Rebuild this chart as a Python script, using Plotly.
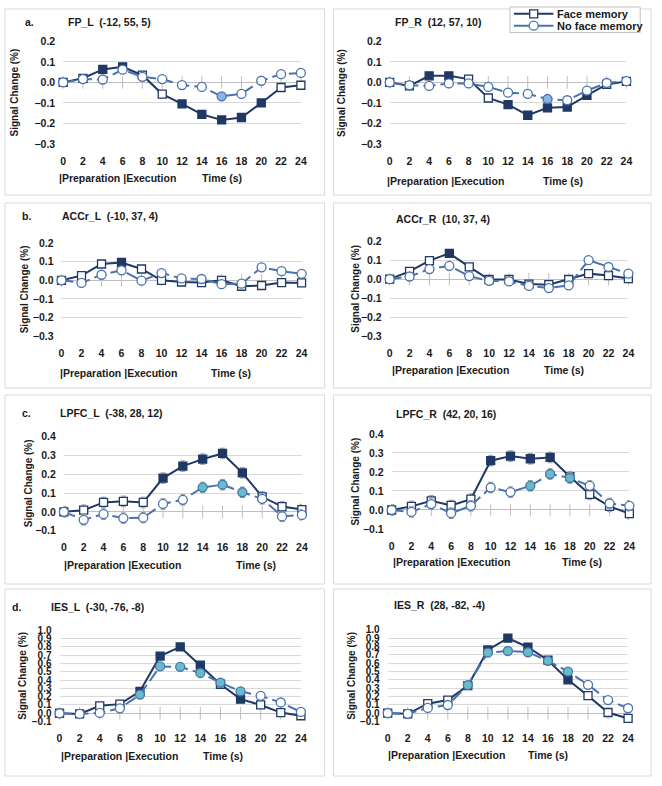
import plotly.graph_objects as go

# time points (s)
times = [0, 2, 4, 6, 8, 10, 12, 14, 16, 18, 20, 22, 24]

# signal change (%); *_sig marks the filled (significant) points
fp_l_face = [0.0, 0.020, 0.063, 0.076, 0.035, -0.057, -0.105, -0.156, -0.183, -0.171, -0.100, -0.025, -0.014]
fp_l_noface = [0.0, 0.016, 0.014, 0.062, 0.027, 0.016, -0.013, -0.022, -0.068, -0.056, 0.008, 0.040, 0.046]
fp_l_face_sig = [0, 0, 1, 1, 0, 0, 1, 1, 1, 1, 1, 0, 0]
fp_l_noface_sig = [0, 0, 0, 0, 0, 0, 0, 0, 1, 0, 0, 0, 0]

fp_r_face = [0.0, -0.017, 0.032, 0.032, 0.016, -0.076, -0.108, -0.160, -0.124, -0.120, -0.063, -0.010, 0.005]
fp_r_noface = [0.0, -0.014, -0.017, -0.005, -0.005, -0.022, -0.050, -0.056, -0.081, -0.087, -0.040, -0.003, 0.006]
fp_r_face_sig = [0, 0, 1, 1, 0, 0, 1, 1, 1, 1, 1, 0, 0]
fp_r_noface_sig = [0, 0, 0, 0, 0, 0, 0, 0, 1, 0, 0, 0, 0]

accr_l_face = [0.0, 0.025, 0.088, 0.096, 0.061, 0.0, -0.009, -0.012, 0.0, -0.032, -0.028, -0.012, -0.014]
accr_l_noface = [0.0, -0.014, 0.030, 0.054, -0.002, 0.039, 0.010, 0.007, -0.021, -0.018, 0.070, 0.049, 0.035]
accr_l_face_sig = [0, 0, 0, 1, 0, 0, 0, 0, 0, 0, 0, 0, 0]
accr_l_noface_sig = [0] * 13

accr_r_face = [0.0, 0.041, 0.098, 0.136, 0.065, -0.002, -0.002, -0.026, -0.029, -0.002, 0.029, 0.019, 0.003]
accr_r_noface = [0.0, 0.014, 0.053, 0.070, 0.016, -0.009, -0.012, -0.036, -0.047, -0.033, 0.100, 0.064, 0.029]
accr_r_face_sig = [0, 0, 0, 1, 0, 0, 0, 0, 0, 0, 0, 0, 0]
accr_r_noface_sig = [0] * 13

lpfc_l_face = [0.0, 0.009, 0.050, 0.056, 0.050, 0.179, 0.243, 0.280, 0.310, 0.207, 0.080, 0.028, 0.012]
lpfc_l_noface = [0.0, -0.042, -0.012, -0.033, -0.031, 0.042, 0.064, 0.130, 0.144, 0.104, 0.069, -0.024, -0.016]
lpfc_l_face_sig = [0, 0, 0, 0, 0, 1, 1, 1, 1, 1, 0, 0, 0]
lpfc_l_noface_sig = [0, 0, 0, 0, 0, 0, 0, 1, 1, 1, 0, 0, 0]

lpfc_r_face = [0.0, 0.019, 0.048, 0.024, 0.057, 0.259, 0.283, 0.269, 0.276, 0.175, 0.082, 0.019, -0.019]
lpfc_r_noface = [0.0, -0.010, 0.031, -0.017, 0.022, 0.118, 0.094, 0.127, 0.189, 0.168, 0.127, 0.034, 0.022]
lpfc_r_face_sig = [0, 0, 0, 0, 0, 1, 1, 1, 1, 0, 0, 0, 0]
lpfc_r_noface_sig = [0, 0, 0, 0, 0, 0, 0, 1, 1, 1, 0, 0, 0]

ies_l_face = [0.0, -0.008, 0.090, 0.110, 0.265, 0.690, 0.800, 0.580, 0.350, 0.170, 0.100, 0.008, -0.030]
ies_l_noface = [0.0, -0.008, 0.004, 0.060, 0.225, 0.565, 0.560, 0.486, 0.370, 0.265, 0.210, 0.130, 0.016]
ies_l_face_sig = [0, 0, 0, 0, 1, 1, 1, 1, 0, 1, 0, 0, 0]
ies_l_noface_sig = [0, 0, 0, 0, 1, 1, 1, 1, 1, 1, 0, 0, 0]

ies_r_face = [0.0, -0.008, 0.114, 0.157, 0.330, 0.757, 0.900, 0.790, 0.635, 0.400, 0.210, 0.008, -0.063]
ies_r_noface = [0.0, -0.008, 0.063, 0.098, 0.337, 0.725, 0.745, 0.730, 0.627, 0.498, 0.340, 0.157, 0.059]
ies_r_face_sig = [0, 0, 0, 0, 0, 1, 1, 1, 1, 1, 0, 0, 0]
ies_r_noface_sig = [0, 0, 0, 0, 1, 1, 1, 1, 1, 1, 0, 0, 0]

# approximate s.e.m. per panel
sem = [0.016, 0.016, 0.018, 0.018, 0.028, 0.028, 0.03, 0.03]

titles = ["FP_L  (-12, 55, 5)", "FP_R  (12, 57, 10)", "ACCr_L  (-10, 37, 4)", "ACCr_R  (10, 37, 4)",
          "LPFC_L  (-38, 28, 12)", "LPFC_R  (42, 20, 16)", "IES_L  (-30, -76, -8)", "IES_R  (28, -82, -4)"]
letters = ["a.", "", "b.", "", "c.", "", "d.", ""]
series_names = ["Face memory", "No face memory"]
face_data = [fp_l_face, fp_r_face, accr_l_face, accr_r_face, lpfc_l_face, lpfc_r_face, ies_l_face, ies_r_face]
noface_data = [fp_l_noface, fp_r_noface, accr_l_noface, accr_r_noface,
               lpfc_l_noface, lpfc_r_noface, ies_l_noface, ies_r_noface]
face_sig = [fp_l_face_sig, fp_r_face_sig, accr_l_face_sig, accr_r_face_sig,
            lpfc_l_face_sig, lpfc_r_face_sig, ies_l_face_sig, ies_r_face_sig]
noface_sig = [fp_l_noface_sig, fp_r_noface_sig, accr_l_noface_sig, accr_r_noface_sig,
              lpfc_l_noface_sig, lpfc_r_noface_sig, ies_l_noface_sig, ies_r_noface_sig]
y_ranges = [(-0.3, 0.2), (-0.3, 0.2), (-0.3, 0.2), (-0.3, 0.2), (-0.1, 0.4), (-0.1, 0.4), (-0.1, 1.0), (-0.1, 1.0)]

W, H = 662, 786
NAVY = "#1f3864"
STEEL = "#4a72ad"
LIGHT = "#8db4e2"
TEAL = "#66bcc8"
GRID = "#d9d9d9"
TXT = "#1a1a1a"
FONT = "Liberation Sans, Arial, sans-serif"

# pixel layout of each panel: plot box (x0, x1, ytop, ybottom), letter/title row, y-title x, footer y,
# left x of "|Preparation", centre x of "Time (s)", fill for significant circles
boxes = [
    dict(plot=(61, 302, 35.7, 140.3), head_y=16, letter_x=20, title_x=64, ytitle_x=12, foot_y=175, prep_x=55, time_x=222, fill=LIGHT),
    dict(plot=(392, 632, 35.7, 140.3), head_y=16, letter_x=0, title_x=395, ytitle_x=343, foot_y=178, prep_x=387, time_x=568, fill=LIGHT),
    dict(plot=(59.3, 302.7, 240.7, 335.3), head_y=213, letter_x=17, title_x=58, ytitle_x=22, foot_y=373, prep_x=56, time_x=231, fill=LIGHT),
    dict(plot=(392, 634, 238.7, 335.3), head_y=216, letter_x=0, title_x=396, ytitle_x=357, foot_y=370, prep_x=392, time_x=569, fill=LIGHT),
    dict(plot=(61.7, 303, 437, 533), head_y=413, letter_x=17, title_x=56, ytitle_x=26, foot_y=568, prep_x=60, time_x=256, fill=TEAL),
    dict(plot=(394, 635, 434.3, 531.3), head_y=414, letter_x=0, title_x=396, ytitle_x=357, foot_y=565, prep_x=393, time_x=587, fill=TEAL),
    dict(plot=(57.3, 302, 634, 726.7), head_y=610, letter_x=7, title_x=47, ytitle_x=20, foot_y=762, prep_x=57, time_x=223, fill=TEAL),
    dict(plot=(390, 633.7, 633.3, 726.7), head_y=608, letter_x=0, title_x=394, ytitle_x=353, foot_y=761, prep_x=388, time_x=553, fill=TEAL),
]
frames = [(2, 326, 3, 192), (335, 657, 3, 192), (2, 326, 200, 388), (335, 657, 200, 388),
          (2, 326, 395, 587), (335, 657, 395, 587), (2, 326, 592, 782), (335, 657, 592, 782)]
legend_box = (514, 646, 1, 27)


def fx(x):
    return x / W


def fy(y):
    return 1 - y / H


fig = go.Figure()
annotations = []
shapes = []
bold = dict(family=FONT, size=10.5, color=TXT, weight="bold")


def ann(text, x, y, xanchor="left", angle=0, size=10.5):
    annotations.append(dict(text=text, x=fx(x), y=fy(y), xref="paper", yref="paper", showarrow=False,
                            xanchor=xanchor, yanchor="middle", textangle=angle,
                            font=dict(bold, size=size)))


for i in range(8):
    b = boxes[i]
    n = "" if i == 0 else str(i + 1)
    xa, ya = "x" + n, "y" + n
    x0, x1, yt, yb = b["plot"]
    lo, hi = y_ranges[i]

    fig.update_layout(**{
        "xaxis" + n: dict(domain=[fx(x0), fx(x1)], anchor=ya, range=[0, 24], tickvals=times,
                          showgrid=False, zeroline=False, showline=False, ticks="",
                          ticklabelstandoff=9, tickfont=bold, fixedrange=True),
        "yaxis" + n: dict(domain=[fy(yb), fy(yt)], anchor=xa, range=[lo - 0.0008, hi + 0.0008], dtick=0.1,
                          tickformat=".1f", showgrid=True, gridcolor=GRID, gridwidth=1,
                          zeroline=True, zerolinecolor="#bfbfbf", zerolinewidth=1,
                          showline=False, ticks="", ticklabelstandoff=7,
                          tickfont=dict(bold, size=10 if hi > 0.5 else 10.5), fixedrange=True),
    })

    # category ticks crossing the zero line
    fig.add_trace(go.Scatter(x=times, y=[0] * len(times), xaxis=xa, yaxis=ya, mode="markers",
                             marker=dict(symbol="line-ns", size=9, line=dict(color="#bfbfbf", width=1)),
                             hoverinfo="skip", showlegend=False, cliponaxis=False))

    fig.add_trace(go.Scatter(
        x=times, y=face_data[i], xaxis=xa, yaxis=ya, mode="lines+markers", name=series_names[0],
        showlegend=False, cliponaxis=False,
        line=dict(color=NAVY, width=2),
        marker=dict(symbol="square", size=8,
                    color=[NAVY if s else "white" for s in face_sig[i]],
                    line=dict(color=NAVY, width=1.3)),
        error_y=dict(type="constant", value=sem[i], color="#a0a0a0", thickness=1, width=2.5),
    ))
    fig.add_trace(go.Scatter(
        x=times, y=noface_data[i], xaxis=xa, yaxis=ya, mode="lines+markers", name=series_names[1],
        showlegend=False, cliponaxis=False,
        line=dict(color=STEEL, width=2, dash="12px,5px"),
        marker=dict(symbol="circle", size=9,
                    color=[b["fill"] if s else "white" for s in noface_sig[i]],
                    line=dict(color=STEEL, width=1.3)),
        error_y=dict(type="constant", value=sem[i], color="#a0a0a0", thickness=1, width=2.5),
    ))

    fx0, fx1, fy0, fy1 = frames[i]
    shapes.append(dict(type="rect", xref="paper", yref="paper", x0=fx(fx0), x1=fx(fx1), y0=fy(fy1), y1=fy(fy0),
                       line=dict(color=GRID, width=1), fillcolor="rgba(0,0,0,0)", layer="below"))

    if letters[i]:
        ann(letters[i], b["letter_x"], b["head_y"])
    ann(titles[i].replace("  ", " \u00a0"), b["title_x"], b["head_y"])
    ann("Signal Change (%)", b["ytitle_x"], (yt + yb) / 2, xanchor="center", angle=-90, size=10)
    ann("|Preparation |Execution", b["prep_x"], b["foot_y"])
    ann("Time (s)", b["time_x"], b["foot_y"], xanchor="center")

# hand-built legend box in the top right corner, drawn on its own pixel-like axis
lx0, lx1, ly0, ly1 = legend_box
fig.update_layout(
    xaxis9=dict(domain=[fx(lx0), fx(lx1)], range=[lx0, lx1], anchor="y9", visible=False, fixedrange=True),
    yaxis9=dict(domain=[fy(ly1), fy(ly0)], range=[ly1, ly0], anchor="x9", visible=False, fixedrange=True),
)
shapes.append(dict(type="rect", xref="paper", yref="paper", x0=fx(lx0), x1=fx(lx1), y0=fy(ly1), y1=fy(ly0),
                   line=dict(color="#bfbfbf", width=1), fillcolor="white", layer="below"))
legend_rows = [(series_names[0], 8, dict(color=NAVY, width=2), "square", 8, NAVY),
               (series_names[1], 20, dict(color=STEEL, width=2), "circle", 9, STEEL)]
for name, ry, line, sym, size, edge in legend_rows:
    fig.add_trace(go.Scatter(x=[lx0 + 4, lx0 + 44], y=[ry, ry], xaxis="x9", yaxis="y9", mode="lines",
                             line=line, hoverinfo="skip", showlegend=False, cliponaxis=False))
    fig.add_trace(go.Scatter(x=[lx0 + 24], y=[ry], xaxis="x9", yaxis="y9", mode="markers",
                             marker=dict(symbol=sym, size=size, color="white", line=dict(color=edge, width=1.3)),
                             hoverinfo="skip", showlegend=False, cliponaxis=False))
    ann(name, lx0 + 46, ry, size=11)

fig.update_layout(
    width=W, height=H, margin=dict(l=0, r=0, t=0, b=0),
    paper_bgcolor="white", plot_bgcolor="rgba(0,0,0,0)",
    font=dict(family=FONT, color=TXT),
    annotations=annotations, shapes=shapes,
    showlegend=False,
)

fig.write_html("out.html", config={"displayModeBar": False},
               post_script="document.body.style.margin='0';")
